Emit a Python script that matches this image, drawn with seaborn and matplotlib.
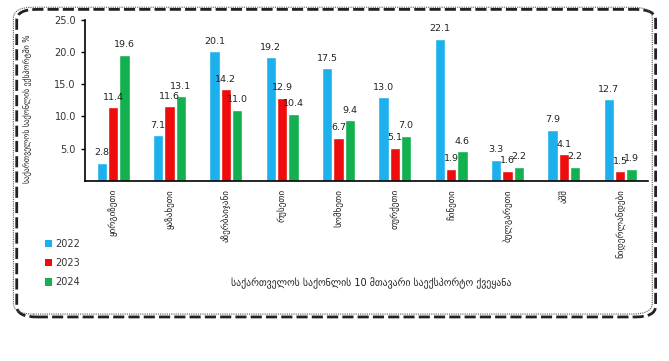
import matplotlib
matplotlib.use("Agg")
import matplotlib.pyplot as plt
import seaborn as sns
import pandas as pd
from matplotlib.patches import FancyBboxPatch

countries = ["ყირგიზეთი", "ყაზახეთი", "აზერბაიჯანი", "რუსეთი", "სომხეთი",
             "თურქეთი", "ჩინეთი", "ბულგარეთი", "აშშ", "ნიდერლანდები"]
years = ["2022", "2023", "2024"]
v2022 = [2.8, 7.1, 20.1, 19.2, 17.5, 13.0, 22.1, 3.3, 7.9, 12.7]
v2023 = [11.4, 11.6, 14.2, 12.9, 6.7, 5.1, 1.9, 1.6, 4.1, 1.5]
v2024 = [19.6, 13.1, 11.0, 10.4, 9.4, 7.0, 4.6, 2.2, 2.2, 1.9]
colors = ["#1cb0ec", "#ee0c0c", "#12b04e"]
ylabel = "საქართველოს საქონლის ექსპორტში %"
xlabel = "საქართველოს საქონლის 10 მთავარი საექსპორტო ქვეყანა"

rows = []
for y, vals in zip(years, [v2022, v2023, v2024]):
    for c, v in zip(countries, vals):
        rows.append({"country": c, "year": y, "value": v})
df = pd.DataFrame(rows)

sns.set_style("white")
plt.rcParams["font.family"] = ["DejaVu Sans"]

fig = plt.figure(figsize=(6.69, 3.61), dpi=100)
# decorative frame
shadow = FancyBboxPatch((0.025, 0.122), 0.955, 0.852, boxstyle="round,pad=0,rounding_size=0.03",
                        transform=fig.transFigure, facecolor="none", edgecolor="#222222",
                        linewidth=2.0, linestyle=(0, (4, 1.5)), zorder=-10)
frame = FancyBboxPatch((0.02, 0.13), 0.955, 0.85, boxstyle="round,pad=0,rounding_size=0.03",
                       transform=fig.transFigure, facecolor="none", edgecolor="#555555",
                       linewidth=0.8, linestyle=(0, (1, 1)), zorder=-9)
fig.patches.extend([shadow, frame])

ax = fig.add_axes([0.127, 0.499, 0.842, 0.446])
ax.patch.set_alpha(0)
sns.barplot(data=df, x="country", y="value", hue="year", palette=colors,
            width=0.6, gap=0.08, ax=ax, legend=False, saturation=1)

for cont in ax.containers:
    ax.bar_label(cont, fmt="%.1f", padding=4, fontsize=6.8, color="#222222")

ax.set_ylim(0, 25)
ax.set_xlim(-0.5, len(countries) - 0.5)
ax.set_yticks([5, 10, 15, 20, 25])
ax.set_yticklabels(["5.0", "10.0", "15.0", "20.0", "25.0"], fontsize=7, color="#333333")
ax.set_xticks(range(len(countries)))
ax.set_xticklabels(countries, rotation=90, fontsize=6.5, color="#222222")
ax.tick_params(axis="x", length=0, pad=6)
ax.set_xticks([i + 0.5 for i in range(len(countries))], minor=True)
ax.tick_params(axis="x", which="minor", length=3, width=1, direction="out", color="black")
ax.tick_params(axis="y", length=3, width=1, direction="out", color="black", left=True)
for s in ["top", "right"]:
    ax.spines[s].set_visible(False)
ax.spines["left"].set_color("black")
ax.spines["bottom"].set_color("black")
ax.spines["left"].set_linewidth(1.2)
ax.spines["bottom"].set_linewidth(1.2)
ax.set_xlabel("")
ax.set_ylabel("")

fig.text(0.04, 0.70, ylabel, rotation=90, ha="center", va="center", fontsize=5.6, color="#222222")
fig.text(0.555, 0.215, xlabel, ha="center", va="center", fontsize=7, color="#222222")

for i, (y, col) in enumerate(zip(years, colors)):
    yy = 0.325 - i * 0.053
    fig.patches.append(plt.Rectangle((0.068, yy - 0.01), 0.009, 0.02, transform=fig.transFigure,
                                     facecolor=col, edgecolor="none"))
    fig.text(0.082, yy, y, ha="left", va="center", fontsize=7, color="#333333")

fig.savefig("out.png", dpi=100)
